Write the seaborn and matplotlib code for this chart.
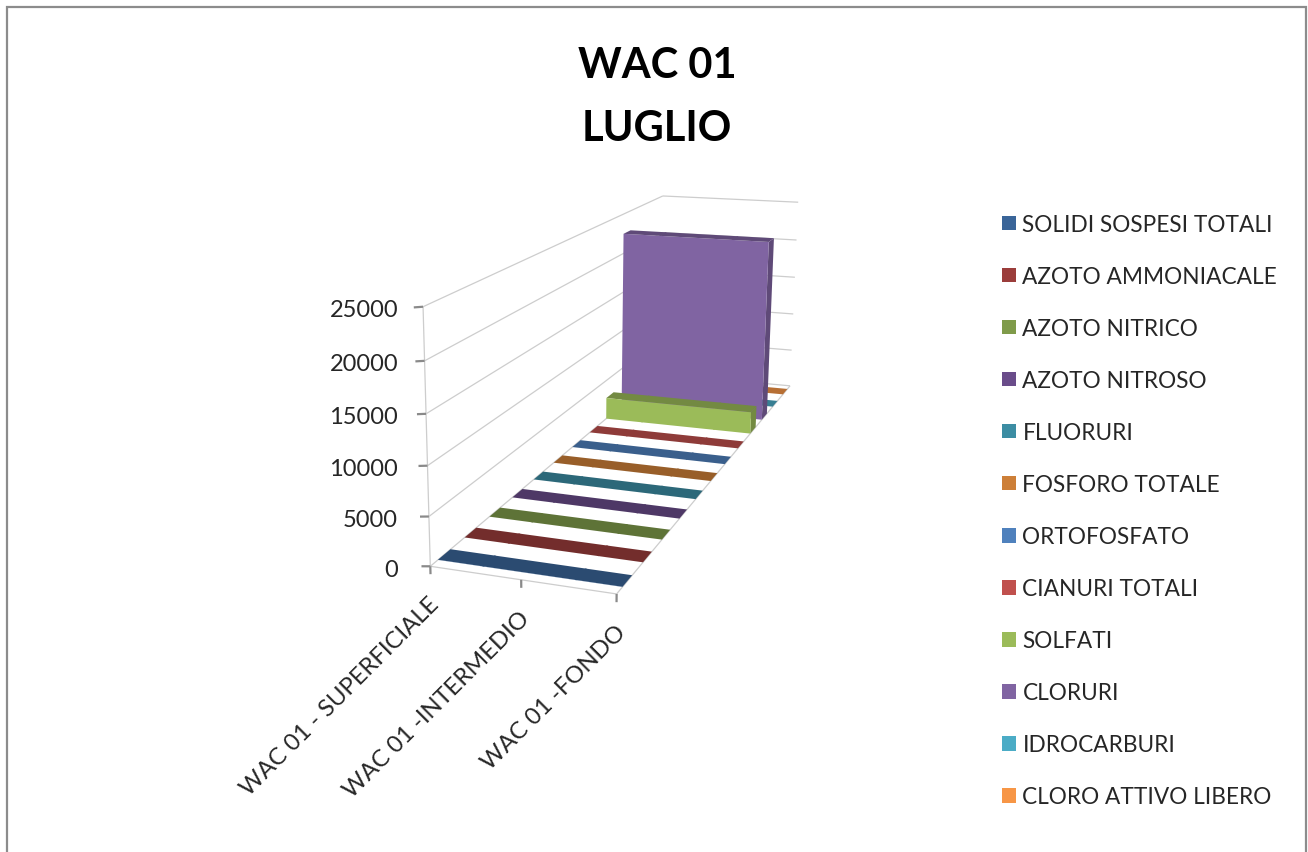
import numpy as np
import matplotlib
matplotlib.use("Agg")
import matplotlib.pyplot as plt
from matplotlib.patches import Patch, Rectangle
from matplotlib.colors import to_rgb
from mpl_toolkits.mplot3d.art3d import Line3DCollection
import seaborn as sns

# ---------- data ----------
title_lines = ["WAC 01", "LUGLIO"]
categories = ["WAC 01 - SUPERFICIALE", "WAC 01 -INTERMEDIO", "WAC 01 -FONDO"]
series_names = ["SOLIDI SOSPESI TOTALI", "AZOTO AMMONIACALE", "AZOTO NITRICO", "AZOTO NITROSO",
                "FLUORURI", "FOSFORO TOTALE", "ORTOFOSFATO", "CIANURI TOTALI", "SOLFATI",
                "CLORURI", "IDROCARBURI", "CLORO ATTIVO LIBERO"]
solidi = [15, 15, 15]
ammoniacale = [1, 1, 1]
nitrico = [1, 1, 1]
nitroso = [1, 1, 1]
fluoruri = [1, 1, 1]
fosforo = [1, 1, 1]
ortofosfato = [1, 1, 1]
cianuri = [1, 1, 1]
solfati = [2700, 2700, 2700]
cloruri = [22500, 22500, 22500]
idrocarburi = [1, 1, 1]
cloro = [1, 1, 1]
series_values = [solidi, ammoniacale, nitrico, nitroso, fluoruri, fosforo,
                 ortofosfato, cianuri, solfati, cloruri, idrocarburi, cloro]
z_ticks = [0, 5000, 10000, 15000, 20000, 25000]
colors_hex = ["#3A6599", "#9B3D3B", "#7F9B4A", "#6A4C8A", "#3C8DA3", "#CD7F38",
              "#4F81BD", "#C0504D", "#9BBB59", "#8064A2", "#4BACC6", "#F79646"]

# ---------- style ----------
sns.set_theme(style="white")
plt.rcParams["font.family"] = ["Lato", "DejaVu Sans"]
palette = sns.color_palette(colors_hex)
W, H = 1308, 853
GRID, TICK = "#cdcdcd", "#8a8a8a"
TEXT = "#262626"

fig = plt.figure(figsize=(W / 100, H / 100), dpi=100, facecolor="white")
ax = fig.add_axes([0, 0, 1, 1], projection="3d", computed_zorder=False)
ax.set_axis_off()
ax.patch.set_visible(False)

# ---------- camera: fitted so the plot box lands where the original chart has it ----------
nx, ny = len(categories) - 1, len(series_names)
zmax = z_ticks[-1]
box = np.array([[0, 0, 0], [nx, 0, 0], [0, 0, zmax], [0, ny, zmax], [nx, ny, zmax], [nx, ny, 0]], float)
pix = np.array([[430, 567], [617, 595], [423, 308], [663, 197], [798, 203], [790, 387]], float)
scale = np.array([nx, ny, zmax], float)
rows = []
for (a, b, c), (u, v) in zip(box / scale, pix):
    rows.append([a, b, c, 1, 0, 0, 0, 0, -u * a, -u * b, -u * c, -u])
    rows.append([0, 0, 0, 0, a, b, c, 1, -v * a, -v * b, -v * c, -v])
P = np.linalg.svd(np.array(rows))[2][-1].reshape(3, 4)
P = P @ np.diag([1 / nx, 1 / ny, 1 / zmax, 1])
if P[2, 3] < 0:
    P = -P
P = P / P[2, 3]


def pixel_proj():
    A = ax.transData.inverted().get_affine().get_matrix()
    flipped = np.vstack([P[0], H * P[2] - P[1], P[2]])
    xy = A @ flipped
    depth = P[2] - 0.5 * np.array([0, 0, 0, 1.0])
    return np.vstack([xy[0], xy[1], depth, xy[2]])


ax.get_proj = pixel_proj


def to_pixel(x, y, z):
    q = P @ np.array([x, y, z, 1.0])
    return q[0] / q[2], q[1] / q[2]


def label_at(u, v, s, **kw):
    fig.text(u / W, 1 - v / H, s, **kw)


# ---------- walls and floor lines ----------
grid_segments = []
tick_segments = []
for z in z_ticks:
    grid_segments.append([(0, 0, z), (0, ny, z)])
    grid_segments.append([(0, ny, z), (nx, ny, z)])
    tick_segments.append([(-0.1, 0, z - 130), (0, 0, z)])
    u, v = to_pixel(0, 0, z)
    label_at(398, v + 3, f"{z}", ha="right", va="center", fontsize=17, color=TEXT)
grid_segments.append([(0, 0, 0), (0, 0, zmax)])
grid_segments.append([(0, 0, 0), (nx, 0, 0)])
grid_segments.append([(nx, 0, 0), (nx, ny, 0)])
for i, label in enumerate(categories):
    tick_segments.append([(i, 0, 0), (i, 0, -800)])
    u, v = to_pixel(i, 0, 0)
    label_at(u - 2, v + 27, label, ha="right", va="top", rotation=45,
             rotation_mode="anchor", fontsize=17.2, color=TEXT)
ax.add_collection3d(Line3DCollection(grid_segments, colors=GRID, linewidths=0.9, zorder=1))
ax.add_collection3d(Line3DCollection(tick_segments, colors=TICK, linewidths=1.6, zorder=2))

# ---------- bars, far to near ----------
clear = (0, 0, 0, 0)
depth_frac = 0.46
order = 10
for s in range(ny - 1, -1, -1):
    base = np.array(to_rgb(palette[s]))
    front = tuple(base) + (1,)
    dark = tuple(base * 0.74) + (1,)
    for c, val in enumerate(series_values[s]):
        left = max(c - 0.5, 0)
        right = min(c + 0.5 + 0.02, nx)
        side = dark if c == nx else clear
        faces = [clear, dark, front, clear, clear, side]
        ax.bar3d(left, s + (1 - depth_frac) / 2, 0, right - left, depth_frac, val,
                 color=faces, edgecolor="none", linewidth=0, shade=False, zorder=order)
        order += 1

# ---------- title, legend, frame ----------
for line, y in zip(title_lines, [66, 129]):
    label_at(657, y, line, ha="center", va="center", fontsize=30, fontweight="bold", color="black")
handles = [Patch(facecolor=palette[i], edgecolor="none", label=n) for i, n in enumerate(series_names)]
fig.legend(handles=handles, loc="upper left", bbox_to_anchor=(993 / W, 1 - 206 / H),
           frameon=False, fontsize=16.3, labelcolor=TEXT, handlelength=0.62, handleheight=0.62,
           handletextpad=0.28, labelspacing=1.37, borderpad=0.4, borderaxespad=0)
fig.add_artist(Rectangle((7 / W, -0.1), (1306 - 7) / W, 1.1 - 8 / H, transform=fig.transFigure,
                         fill=False, edgecolor="#8c8c8c", lw=1.6))
fig.savefig("out.png", dpi=100)
